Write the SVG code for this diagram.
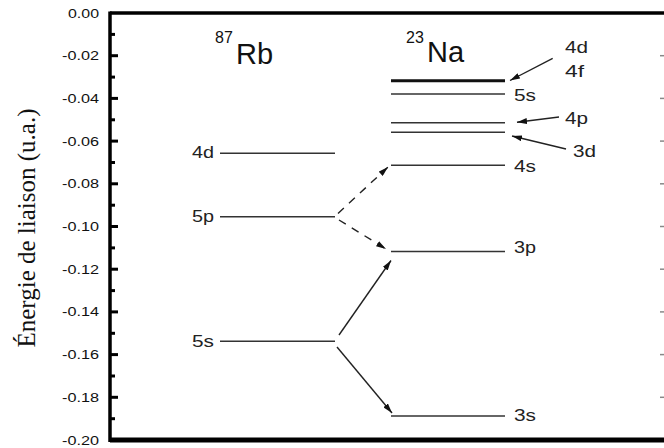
<svg xmlns="http://www.w3.org/2000/svg" width="664" height="448" viewBox="0 0 664 448">
<defs>
<style>
.ax{stroke:#000;fill:none}
.tl{font-family:"Liberation Sans",Arial,sans-serif;font-size:13px;fill:#111;text-anchor:end}
.lv{stroke:#333;stroke-width:1.5;fill:none}
.lb{font-family:"Liberation Sans",Arial,sans-serif;font-size:16px;fill:#222}
.ttl{font-family:"Liberation Sans",Arial,sans-serif;fill:#111}
.cn{stroke:#222;stroke-width:1.4;fill:none}
.dash{stroke-dasharray:8 7}
.rt{stroke:#888;stroke-width:1.5}
</style>
<marker id="ah" viewBox="0 0 10 6" refX="10" refY="3" markerWidth="10" markerHeight="6" markerUnits="userSpaceOnUse" orient="auto">
<path d="M0,0 L10,3 L0,6 Z" fill="#111"/>
</marker>
</defs>
<rect width="664" height="448" fill="#fff"/>
<g id="axes">
<line class="ax" x1="110" y1="13" x2="664" y2="13" stroke-width="3.5"/>
<line class="ax" x1="110" y1="440" x2="664" y2="440" stroke-width="5"/>
<line class="ax" x1="110" y1="11.5" x2="110" y2="442" stroke-width="3.5"/>
<g class="ax" stroke-width="3">
<line x1="110" y1="55.7" x2="118" y2="55.7"/>
<line x1="110" y1="98.4" x2="118" y2="98.4"/>
<line x1="110" y1="141.1" x2="118" y2="141.1"/>
<line x1="110" y1="183.8" x2="118" y2="183.8"/>
<line x1="110" y1="226.5" x2="118" y2="226.5"/>
<line x1="110" y1="269.2" x2="118" y2="269.2"/>
<line x1="110" y1="311.9" x2="118" y2="311.9"/>
<line x1="110" y1="354.6" x2="118" y2="354.6"/>
<line x1="110" y1="397.3" x2="118" y2="397.3"/>
<line x1="110" y1="34.4" x2="115" y2="34.4"/>
<line x1="110" y1="77.1" x2="115" y2="77.1"/>
<line x1="110" y1="119.8" x2="115" y2="119.8"/>
<line x1="110" y1="162.5" x2="115" y2="162.5"/>
<line x1="110" y1="205.2" x2="115" y2="205.2"/>
<line x1="110" y1="247.9" x2="115" y2="247.9"/>
<line x1="110" y1="290.6" x2="115" y2="290.6"/>
<line x1="110" y1="333.3" x2="115" y2="333.3"/>
<line x1="110" y1="376" x2="115" y2="376"/>
<line x1="110" y1="418.7" x2="115" y2="418.7"/>
</g>
<g class="rt">
<line x1="660" y1="55.7" x2="664" y2="55.7"/>
<line x1="660" y1="98.4" x2="664" y2="98.4"/>
<line x1="660" y1="141.1" x2="664" y2="141.1"/>
<line x1="660" y1="183.8" x2="664" y2="183.8"/>
<line x1="660" y1="226.5" x2="664" y2="226.5"/>
<line x1="660" y1="269.2" x2="664" y2="269.2"/>
<line x1="660" y1="311.9" x2="664" y2="311.9"/>
<line x1="660" y1="354.6" x2="664" y2="354.6"/>
<line x1="660" y1="397.3" x2="664" y2="397.3"/>
</g>
<g>
<text class="tl" x="99" y="18" textLength="31" lengthAdjust="spacingAndGlyphs">0.00</text>
<text class="tl" x="99" y="60.2" textLength="37" lengthAdjust="spacingAndGlyphs">-0.02</text>
<text class="tl" x="99" y="102.9" textLength="37" lengthAdjust="spacingAndGlyphs">-0.04</text>
<text class="tl" x="99" y="145.6" textLength="37" lengthAdjust="spacingAndGlyphs">-0.06</text>
<text class="tl" x="99" y="188.3" textLength="37" lengthAdjust="spacingAndGlyphs">-0.08</text>
<text class="tl" x="99" y="231" textLength="37" lengthAdjust="spacingAndGlyphs">-0.10</text>
<text class="tl" x="99" y="273.7" textLength="37" lengthAdjust="spacingAndGlyphs">-0.12</text>
<text class="tl" x="99" y="316.4" textLength="37" lengthAdjust="spacingAndGlyphs">-0.14</text>
<text class="tl" x="99" y="359.1" textLength="37" lengthAdjust="spacingAndGlyphs">-0.16</text>
<text class="tl" x="99" y="401.8" textLength="37" lengthAdjust="spacingAndGlyphs">-0.18</text>
<text class="tl" x="99" y="444.5" textLength="37" lengthAdjust="spacingAndGlyphs">-0.20</text>
</g>
<text transform="translate(35,228) rotate(-90)" text-anchor="middle" font-family="'Liberation Serif','Times New Roman',serif" font-size="25" fill="#111">Énergie de liaison (u.a.)</text>
</g>
<g id="title-rb">
<text class="ttl" x="215" y="43" font-size="16">87</text>
<text class="ttl" x="236" y="64" font-size="29">Rb</text>
</g>
<g id="title-na">
<text class="ttl" x="406" y="43" font-size="16">23</text>
<text class="ttl" x="427" y="62" font-size="29">Na</text>
</g>
<g id="rb-4d"><line class="lv" x1="220" y1="153.3" x2="335" y2="153.3"/><text class="lb" x="192" y="158" textLength="22" lengthAdjust="spacingAndGlyphs">4d</text></g>
<g id="rb-5p"><line class="lv" x1="220" y1="216.7" x2="335" y2="216.7"/><text class="lb" x="192" y="222" textLength="22" lengthAdjust="spacingAndGlyphs">5p</text></g>
<g id="rb-5s"><line class="lv" x1="220" y1="341.3" x2="335" y2="341.3"/><text class="lb" x="192" y="346.5" textLength="22" lengthAdjust="spacingAndGlyphs">5s</text></g>
<g id="na-4d4f"><line x1="391" y1="80.7" x2="505" y2="80.7" stroke="#111" stroke-width="3"/><text class="lb" x="565" y="53" textLength="23" lengthAdjust="spacingAndGlyphs">4d</text><text class="lb" x="565" y="77" textLength="19" lengthAdjust="spacingAndGlyphs">4f</text></g>
<g id="na-5s"><line class="lv" x1="391" y1="94" x2="505" y2="94"/><text class="lb" x="514" y="101" textLength="22" lengthAdjust="spacingAndGlyphs">5s</text></g>
<g id="na-4p"><line class="lv" x1="391" y1="122.7" x2="505" y2="122.7"/><text class="lb" x="565" y="124" textLength="23" lengthAdjust="spacingAndGlyphs">4p</text></g>
<g id="na-3d"><line class="lv" x1="391" y1="132.3" x2="505" y2="132.3"/><text class="lb" x="573" y="157" textLength="23" lengthAdjust="spacingAndGlyphs">3d</text></g>
<g id="na-4s"><line class="lv" x1="391" y1="165.3" x2="505" y2="165.3"/><text class="lb" x="514" y="172" textLength="22" lengthAdjust="spacingAndGlyphs">4s</text></g>
<g id="na-3p"><line class="lv" x1="391" y1="251.5" x2="505" y2="251.5"/><text class="lb" x="514" y="253" textLength="22" lengthAdjust="spacingAndGlyphs">3p</text></g>
<g id="na-3s"><line class="lv" x1="391" y1="416" x2="505" y2="416"/><text class="lb" x="514" y="421" textLength="22" lengthAdjust="spacingAndGlyphs">3s</text></g>
<g id="connectors">
<line class="cn" x1="552.7" y1="58.3" x2="510" y2="80.5" marker-end="url(#ah)"/>
<line class="cn" x1="559" y1="117" x2="517" y2="122.3" marker-end="url(#ah)"/>
<line class="cn" x1="566" y1="149" x2="512" y2="136" marker-end="url(#ah)"/>
<line class="cn dash" x1="338" y1="213.5" x2="388" y2="167" marker-end="url(#ah)"/>
<line class="cn dash" x1="339" y1="220" x2="386" y2="249" marker-end="url(#ah)"/>
<line class="cn" x1="339" y1="335" x2="391" y2="260.5" marker-end="url(#ah)"/>
<line class="cn" x1="337" y1="347" x2="392" y2="413" marker-end="url(#ah)"/>
</g>
</svg>
